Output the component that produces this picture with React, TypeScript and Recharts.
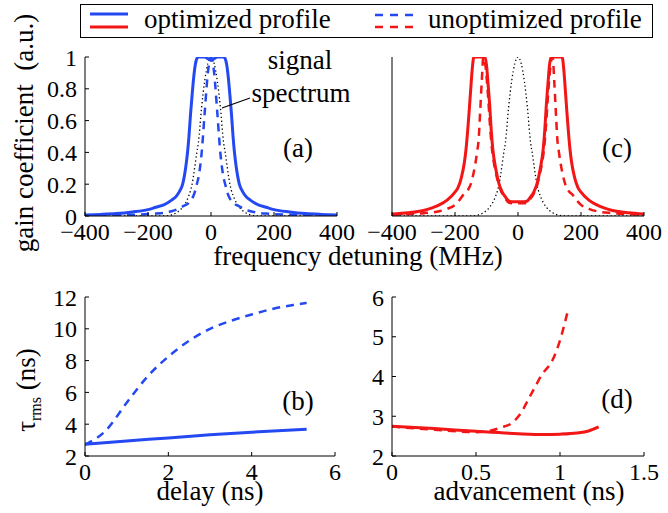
import { LineChart, Line, XAxis, YAxis } from 'recharts'

const FONT = '"Liberation Serif", "Times New Roman", serif'
const BLUE = '#2449f2'
const RED = '#f21616'

// (a) gain profiles around the signal, frequency detuning in MHz
const freqA = [-400, -350, -300, -250, -200, -175, -150, -125, -110, -100, -90, -80, -75, -70, -65, -60, -55, -50, -45, -40, -30, -20, -10, 0, 10, 20, 30, 40, 45, 50, 55, 60, 65, 70, 75, 80, 90, 100, 110, 125, 150, 175, 200, 250, 300, 350, 400]
const optimizedA = [0.007, 0.01, 0.015, 0.025, 0.04, 0.055, 0.07, 0.1, 0.125, 0.155, 0.2, 0.31, 0.39, 0.5, 0.64, 0.76, 0.87, 0.95, 0.99, 1, 1, 1, 0.99, 0.98, 0.99, 1, 1, 1, 0.99, 0.95, 0.87, 0.76, 0.64, 0.5, 0.39, 0.31, 0.2, 0.155, 0.125, 0.1, 0.07, 0.055, 0.04, 0.025, 0.015, 0.01, 0.007]
const unoptimizedA = [0.003, 0.004, 0.005, 0.008, 0.012, 0.015, 0.02, 0.03, 0.04, 0.05, 0.06, 0.07, 0.075, 0.085, 0.095, 0.11, 0.13, 0.16, 0.2, 0.24, 0.39, 0.65, 0.9, 1, 0.9, 0.65, 0.39, 0.24, 0.2, 0.16, 0.13, 0.11, 0.095, 0.085, 0.075, 0.07, 0.06, 0.05, 0.04, 0.03, 0.02, 0.015, 0.012, 0.008, 0.005, 0.004, 0.003]
const signalSpectrum = [0, 0, 0, 0, 0, 0, 0, 0.007, 0.02, 0.035, 0.055, 0.085, 0.105, 0.13, 0.16, 0.2, 0.26, 0.33, 0.4, 0.46, 0.68, 0.85, 0.96, 1, 0.96, 0.85, 0.68, 0.46, 0.4, 0.33, 0.26, 0.2, 0.16, 0.13, 0.105, 0.085, 0.055, 0.035, 0.02, 0.007, 0, 0, 0, 0, 0, 0, 0]

// (c) double-peaked gain profiles
const freqOptC = [-400, -350, -300, -275, -250, -225, -200, -190, -180, -170, -165, -160, -155, -150, -145, -140, -120, -105, -100, -95, -90, -85, -80, -70, -60, -50, -40, -30, -20, 0, 20, 30, 40, 50, 60, 70, 80, 85, 90, 95, 100, 105, 120, 140, 145, 150, 155, 160, 165, 170, 180, 190, 200, 225, 250, 275, 300, 350, 400]
const optimizedC = [0.012, 0.02, 0.035, 0.05, 0.07, 0.1, 0.15, 0.18, 0.24, 0.34, 0.42, 0.53, 0.66, 0.8, 0.93, 1, 1, 1, 0.95, 0.83, 0.7, 0.54, 0.42, 0.29, 0.2, 0.15, 0.12, 0.095, 0.09, 0.09, 0.09, 0.095, 0.12, 0.15, 0.2, 0.29, 0.42, 0.54, 0.7, 0.83, 0.95, 1, 1, 1, 0.93, 0.8, 0.66, 0.53, 0.42, 0.34, 0.24, 0.18, 0.15, 0.1, 0.07, 0.05, 0.035, 0.02, 0.012]
const freqUnoptC = [-400, -350, -300, -250, -225, -200, -190, -175, -160, -150, -140, -130, -125, -120, -115, -110, -105, -100, -95, -90, -85, -80, -70, -60, -50, -40, -30, -20, 0, 20, 30, 40, 50, 60, 70, 80, 85, 90, 95, 100, 105, 110, 115, 120, 125, 130, 140, 150, 160, 175, 190, 200, 225, 250, 300, 350, 400]
const unoptimizedC = [0.008, 0.012, 0.018, 0.03, 0.045, 0.07, 0.09, 0.13, 0.16, 0.2, 0.28, 0.4, 0.48, 0.66, 0.85, 1, 0.97, 0.88, 0.75, 0.6, 0.47, 0.38, 0.27, 0.19, 0.14, 0.11, 0.085, 0.08, 0.08, 0.08, 0.085, 0.11, 0.14, 0.19, 0.27, 0.38, 0.47, 0.6, 0.75, 0.88, 0.97, 1, 0.85, 0.66, 0.48, 0.4, 0.28, 0.2, 0.16, 0.13, 0.09, 0.07, 0.045, 0.03, 0.018, 0.012, 0.008]

// (b) pulse width vs delay (ns)
const delayOpt = [0, 1, 2, 3, 4, 5.32]
const tauOpt = [2.74, 2.95, 3.13, 3.33, 3.5, 3.68]
const delayUnopt = [0, 0.5, 1, 1.5, 2, 2.5, 3, 3.5, 4, 4.5, 5, 5.32]
const tauUnopt = [2.72, 3.6, 5.35, 7.0, 8.25, 9.25, 10.0, 10.5, 10.9, 11.25, 11.5, 11.63]

// (d) pulse width vs advancement (ns)
const advOpt = [0, 0.25, 0.5, 0.75, 0.9, 1.0, 1.1, 1.17, 1.23]
const tauAdvOpt = [2.75, 2.69, 2.62, 2.56, 2.54, 2.55, 2.58, 2.63, 2.73]
const advUnopt = [0, 0.25, 0.5, 0.59, 0.65, 0.71, 0.76, 0.83, 0.89, 0.96, 1.0, 1.05]
const tauAdvUnopt = [2.74, 2.66, 2.6, 2.64, 2.72, 2.82, 3.04, 3.57, 4.03, 4.45, 4.91, 5.71]

const detuningTicks = [-400, -200, 0, 200, 400]
const gainTicks = [0, 0.2, 0.4, 0.6, 0.8, 1]
const delayTicks = [0, 2, 4, 6]
const tauTicksB = [2, 4, 6, 8, 10, 12]
const advTicks = [0, 0.5, 1, 1.5]
const tauTicksD = [2, 3, 4, 5, 6]

const pts = (xs: number[], ys: number[]) => xs.map((x, i) => ({ x, y: ys[i] }))
const fmt = (v: number) => (v < 0 ? `\u2212${Math.abs(v)}` : `${v}`)

const tickStyle = { fill: '#000', fontSize: 24, fontFamily: FONT }
const xAxisProps = {
  type: 'number' as const,
  dataKey: 'x',
  height: 30,
  interval: 0 as const,
  tickSize: -4,
  tickMargin: 11,
  tickFormatter: fmt,
  allowDataOverflow: true,
  axisLine: { stroke: '#000' },
  tickLine: { stroke: '#000' },
  tick: tickStyle,
}
const yAxisProps = {
  type: 'number' as const,
  interval: 0 as const,
  tickSize: -4,
  tickMargin: 12,
  allowDataOverflow: true,
  axisLine: { stroke: '#000' },
  tickLine: { stroke: '#000' },
  tick: tickStyle,
}

const solid = { dataKey: 'y', type: 'monotone' as const, strokeWidth: 3, dot: false, activeDot: false, isAnimationActive: false }
const dashed = { ...solid, strokeWidth: 2.5, strokeDasharray: '8 6' }
const dotted = { ...solid, stroke: '#000', strokeWidth: 1.3, strokeDasharray: '1.3 2.6' }

const box = (left: number, top: number) => ({ position: 'absolute' as const, left, top })

export default function App() {
  return (
    <div style={{ position: 'absolute', left: 0, top: 0, width: 668, height: 513, background: '#fff', fontFamily: FONT }}>
      <div style={box(0, 0)}>
        <LineChart width={365} height={250} margin={{ top: 57, right: 28, bottom: 4, left: 0 }}>
          <XAxis {...xAxisProps} domain={[-400, 400]} ticks={detuningTicks} />
          <YAxis {...yAxisProps} width={85} domain={[0, 1]} ticks={gainTicks} />
          <Line {...dotted} data={pts(freqA, signalSpectrum)} />
          <Line {...dashed} stroke={BLUE} data={pts(freqA, unoptimizedA)} />
          <Line {...solid} stroke={BLUE} data={pts(freqA, optimizedA)} />
        </LineChart>
      </div>

      <div style={box(340, 0)}>
        <LineChart width={328} height={250} margin={{ top: 57, right: 24, bottom: 4, left: 0 }}>
          <XAxis {...xAxisProps} domain={[-400, 400]} ticks={detuningTicks} />
          <YAxis {...yAxisProps} width={52} domain={[0, 1]} ticks={gainTicks} tick={false} />
          <Line {...dotted} data={pts(freqA, signalSpectrum)} />
          <Line {...dashed} stroke={RED} data={pts(freqUnoptC, unoptimizedC)} />
          <Line {...solid} stroke={RED} data={pts(freqOptC, optimizedC)} />
        </LineChart>
      </div>

      <div style={box(0, 250)}>
        <LineChart width={360} height={263} margin={{ top: 47, right: 25, bottom: 27, left: 0 }}>
          <XAxis {...xAxisProps} domain={[0, 6]} ticks={delayTicks} />
          <YAxis {...yAxisProps} width={85} domain={[2, 12]} ticks={tauTicksB} />
          <Line {...dashed} stroke={BLUE} data={pts(delayUnopt, tauUnopt)} />
          <Line {...solid} stroke={BLUE} data={pts(delayOpt, tauOpt)} />
        </LineChart>
      </div>

      <div style={box(340, 250)}>
        <LineChart width={328} height={263} margin={{ top: 47, right: 24, bottom: 27, left: 0 }}>
          <XAxis {...xAxisProps} domain={[0, 1.5]} ticks={advTicks} />
          <YAxis {...yAxisProps} width={52} domain={[2, 6]} ticks={tauTicksD} />
          <Line {...dashed} stroke={RED} data={pts(advUnopt, tauAdvUnopt)} />
          <Line {...solid} stroke={RED} data={pts(advOpt, tauAdvOpt)} />
        </LineChart>
      </div>

      <svg width={668} height={513} style={{ position: 'absolute', left: 0, top: 0, pointerEvents: 'none' }} fontFamily={FONT} fill="#000">
        {/* legend */}
        <rect x={80.5} y={4.5} width={572} height={33} fill="#fff" stroke="#000" />
        <line x1={90} x2={128} y1={14} y2={14} stroke={BLUE} strokeWidth={3} />
        <line x1={90} x2={128} y1={27} y2={27} stroke={RED} strokeWidth={3} />
        <text x={144} y={28} fontSize={27}>optimized profile</text>
        <line x1={375} x2={413} y1={15} y2={15} stroke={BLUE} strokeWidth={2.5} strokeDasharray="8 7" />
        <line x1={375} x2={413} y1={27} y2={27} stroke={RED} strokeWidth={2.5} strokeDasharray="8 7" />
        <text x={428} y={28} fontSize={27}>unoptimized profile</text>

        {/* annotations */}
        <text x={300} y={69} fontSize={27} textAnchor="middle">signal</text>
        <text x={301} y={102} fontSize={27} textAnchor="middle">spectrum</text>
        <line x1={222} y1={108} x2={250} y2={98} stroke="#000" strokeWidth={1.2} />
        <text x={298} y={157} fontSize={27} textAnchor="middle">(a)</text>
        <text x={617} y={157} fontSize={27} textAnchor="middle">(c)</text>
        <text x={298} y={410} fontSize={27} textAnchor="middle">(b)</text>
        <text x={617} y={408} fontSize={27} textAnchor="middle">(d)</text>

        {/* axis titles */}
        <text x={33} y={133} fontSize={27} textAnchor="middle" transform="rotate(-90 33 133)">gain coefficient{'\u00a0 '}(a.u.)</text>
        <text x={358} y={265} fontSize={27} textAnchor="middle">frequency detuning (MHz)</text>
        <text x={35} y={390} fontSize={27} textAnchor="middle" transform="rotate(-90 35 390)">
          <tspan>τ</tspan>
          <tspan fontSize={16} dy={6}>rms</tspan>
          <tspan dy={-6}>{'\u00a0(ns)'}</tspan>
        </text>
        <text x={210} y={500} fontSize={27} textAnchor="middle">delay (ns)</text>
        <text x={529} y={500} fontSize={27} textAnchor="middle">advancement (ns)</text>
      </svg>
    </div>
  )
}
